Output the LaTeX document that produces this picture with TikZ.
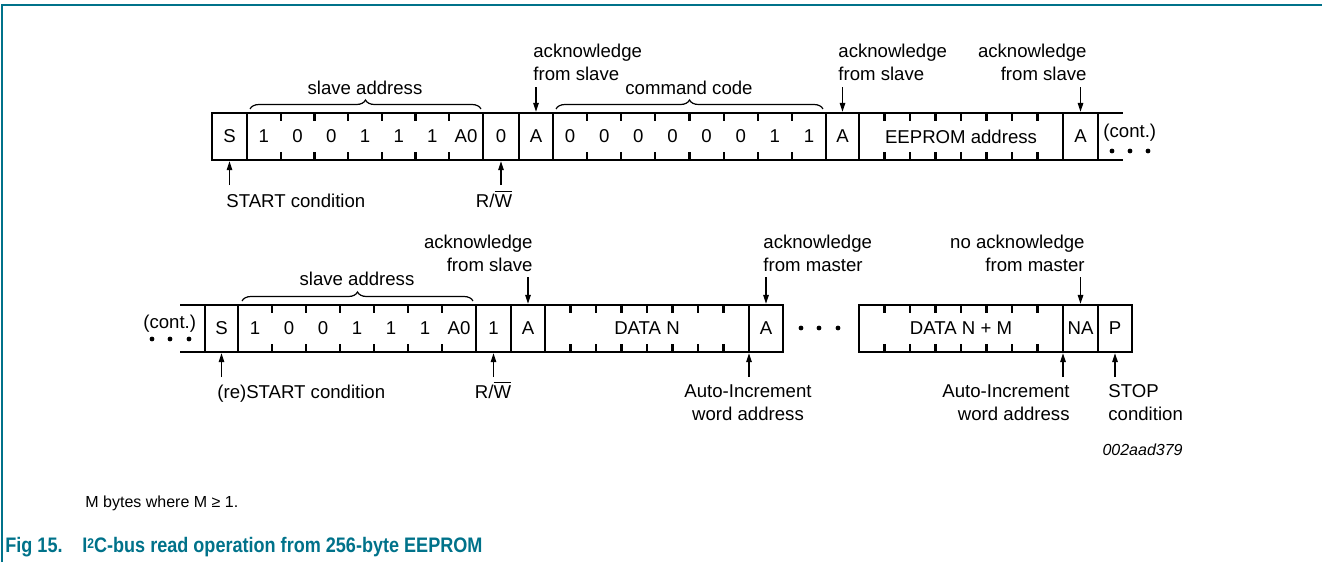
\documentclass[tikz,border=0pt]{standalone}
\usepackage{fontspec}
\setmainfont{Liberation Sans}
\newfontfamily\capfont[FakeStretch=0.86]{Liberation Sans}
\usetikzlibrary{arrows.meta, decorations.pathreplacing}
\definecolor{capteal}{RGB}{0,114,138}

\begin{document}
\begin{tikzpicture}[
    x=0.5pt, y=-0.5pt,
    font=\fontsize{9.3}{11.5}\selectfont,
    cell/.style={draw, line width=0.95pt, minimum height=23.5pt, inner sep=0pt, outer sep=0pt},
    field/.style={cell, line width=1.2pt},
    busline/.style={line width=1.2pt},
    tick/.style={line width=1.1pt},
    lbl/.style={inner sep=0pt},
    arrow/.style={-{Triangle[length=4.5pt, width=2.8pt]}, line width=0.6pt, shorten >=0.6pt},
    brc/.style={decorate, decoration={brace, amplitude=4.5pt}, line width=0.6pt},
    dot/.style={circle, fill, inner sep=0pt, minimum size=2.4pt}
  ]
  \useasboundingbox (0,0) rectangle (1322,562);
  \draw[capteal, line width=0.75pt] (2,562) -- (2,5) -- (1322,5);

  % first transfer: slave address, command code, EEPROM address
  \node[cell, minimum width=17.5pt] (s1) at (229.5,136.5) {S};
  \node[field, minimum width=118pt] (sa1) at (365,136.5) {};
  \foreach \b [count=\i] in {1,0,0,1,1,1,A0}
    \node (sa1-\i) at ({247+(\i-0.5)*33.71},136.5) {\b};
  \foreach \i in {1,...,6}
    \draw[tick] ({247+\i*33.71},113) -- ++(0,8) ({247+\i*33.71},160) -- ++(0,-8);
  \node[cell, minimum width=18pt] (rw1) at (501,136.5) {0};
  \node[cell, minimum width=17pt] (ak1) at (536,136.5) {A};
  \node[field, minimum width=136.5pt] (cc1) at (689.5,136.5) {};
  \foreach \b [count=\i] in {0,0,0,0,0,0,1,1}
    \node (cc1-\i) at ({553+(\i-0.5)*34.125},136.5) {\b};
  \foreach \i in {1,...,7}
    \draw[tick] ({553+\i*34.125},113) -- ++(0,8) ({553+\i*34.125},160) -- ++(0,-8);
  \node[cell, minimum width=16.5pt] (ak2) at (842.5,136.5) {A};
  \node[field, minimum width=102pt] (ee1) at (961,136.5) {EEPROM address};
  \foreach \i in {1,...,7}
    \draw[tick] ({859+\i*25.5},113) -- ++(0,8) ({859+\i*25.5},160) -- ++(0,-8);
  \node[cell, minimum width=17.5pt] (ak3) at (1080.5,136.5) {A};
  \draw[busline] (ak3.north east) -- (1123,113) (ak3.south east) -- (1123,160);
  \node[lbl, anchor=base west] (cont1) at (1103,137) {(cont.)};
  \foreach \x [count=\i] in {1112,1130,1148}
    \node[dot] (dt1-\i) at (\x,151) {};

  \draw[brc] (250,109) -- (481,109);
  \node[lbl, anchor=base] (sal1) at (365,94) {slave address};
  \draw[brc] (556,109) -- (823,109);
  \node[lbl, anchor=base] (ccl1) at (689,94) {command code};
  \node[lbl, anchor=base west, align=left] (akl1) at (533,80) {acknowledge\\from slave};
  \node[lbl, anchor=base west, align=left] (akl2) at (838,80) {acknowledge\\from slave};
  \node[lbl, anchor=base east, align=right] (akl3) at (1087,80) {acknowledge\\from slave};
  \coordinate (ak1t) at (536,87);
  \coordinate (ak2t) at (842.5,87);
  \coordinate (ak3t) at (1080.5,87);
  \draw[arrow] (ak1t) -- (ak1.north);
  \draw[arrow] (ak2t) -- (ak2.north);
  \draw[arrow] (ak3t) -- (ak3.north);

  \node[lbl, anchor=base west] (stl1) at (226,207) {START condition};
  \node[lbl, anchor=base] (rwl1) at (494,207) {R/$\overline{\mbox{W}}$};
  \coordinate (s1b) at (229.5,185);
  \coordinate (rw1b) at (501,185);
  \draw[arrow] (s1b) -- (s1.south);
  \draw[arrow] (rw1b) -- (rw1.south);

  % second transfer: repeated start, data bytes
  \node[lbl, anchor=base west] (cont2) at (143,328) {(cont.)};
  \foreach \x [count=\i] in {152,170,189}
    \node[dot] (dt2-\i) at (\x,339) {};
  \node[cell, minimum width=16.5pt] (s2) at (221.5,328.5) {S};
  \draw[busline] (180,305) -- (s2.north west) (180,352) -- (s2.south west);
  \node[field, minimum width=119pt] (sa2) at (357,328.5) {};
  \foreach \b [count=\i] in {1,0,0,1,1,1,A0}
    \node (sa2-\i) at ({238+(\i-0.5)*34},328.5) {\b};
  \foreach \i in {1,...,6}
    \draw[tick] ({238+\i*34},305) -- ++(0,8) ({238+\i*34},352) -- ++(0,-8);
  \node[cell, minimum width=17.5pt] (rw2) at (493.5,328.5) {1};
  \node[cell, minimum width=17pt] (ak4) at (528,328.5) {A};
  \node[field, minimum width=102pt] (dn) at (647,328.5) {DATA N};
  \foreach \i in {1,...,7}
    \draw[tick] ({545+\i*25.5},305) -- ++(0,8) ({545+\i*25.5},352) -- ++(0,-8);
  \node[cell, minimum width=17pt] (ak5) at (766,328.5) {A};
  \foreach \x [count=\i] in {801,819,838}
    \node[dot] (dt3-\i) at (\x,328) {};
  \node[field, minimum width=102pt] (dnm) at (961,328.5) {DATA N + M};
  \foreach \i in {1,...,7}
    \draw[tick] ({859+\i*25.5},305) -- ++(0,8) ({859+\i*25.5},352) -- ++(0,-8);
  \node[cell, minimum width=17.5pt] (na) at (1080.5,328.5) {NA};
  \node[field, minimum width=17pt] (p) at (1115,328.5) {P};

  \draw[brc] (242,301) -- (473,301);
  \node[lbl, anchor=base] (sal2) at (357,285) {slave address};
  \node[lbl, anchor=base east, align=right] (akl4) at (533,271) {acknowledge\\from slave};
  \node[lbl, anchor=base west, align=left] (akl5) at (763,271) {acknowledge\\from master};
  \node[lbl, anchor=base east, align=right] (nal) at (1085,271) {no acknowledge\\from master};
  \coordinate (ak4t) at (528,277);
  \coordinate (ak5t) at (766,277);
  \coordinate (nat) at (1080.5,277);
  \draw[arrow] (ak4t) -- (ak4.north);
  \draw[arrow] (ak5t) -- (ak5.north);
  \draw[arrow] (nat) -- (na.north);

  \node[lbl, anchor=base west] (stl2) at (217,398) {(re)START condition};
  \node[lbl, anchor=base] (rwl2) at (493,398) {R/$\overline{\mbox{W}}$};
  \node[lbl, anchor=base, align=center] (ail1) at (748,420) {Auto-Increment\\word address};
  \node[lbl, anchor=base east, align=right] (ail2) at (1070,420) {Auto-Increment\\word address};
  \node[lbl, anchor=base west, align=left] (spl) at (1108,420) {STOP\\condition};
  \coordinate (s2b) at (221.5,377);
  \coordinate (rw2b) at (493.5,377);
  \coordinate (dnb) at (749,377);
  \coordinate (dnmb) at (1063,377);
  \coordinate (pb) at (1115,377);
  \draw[arrow] (s2b) -- (s2.south);
  \draw[arrow] (rw2b) -- (rw2.south);
  \draw[arrow] (dnb) -- (dn.south east);
  \draw[arrow] (dnmb) -- (dnm.south east);
  \draw[arrow] (pb) -- (p.south);

  % figure code, note and caption
  \node[lbl, anchor=base east, font=\fontsize{8}{9.6}\selectfont\itshape] (code) at (1183,455) {002aad379};
  \node[lbl, anchor=base west, font=\fontsize{8}{9.6}\selectfont] (note) at (85,507) {M bytes where M ≥ 1.};
  \node[lbl, anchor=base west, text=capteal, font=\capfont\bfseries\fontsize{10.5}{12.6}\selectfont] (fignum) at (5,552) {Fig 15.};
  \node[lbl, anchor=base west, text=capteal, font=\capfont\bfseries\fontsize{10.5}{12.6}\selectfont] (figtitle) at (82,552) {I\raisebox{0.35ex}{\fontsize{7}{8}\selectfont 2}C-bus read operation from 256-byte EEPROM};
\end{tikzpicture}
\end{document}
